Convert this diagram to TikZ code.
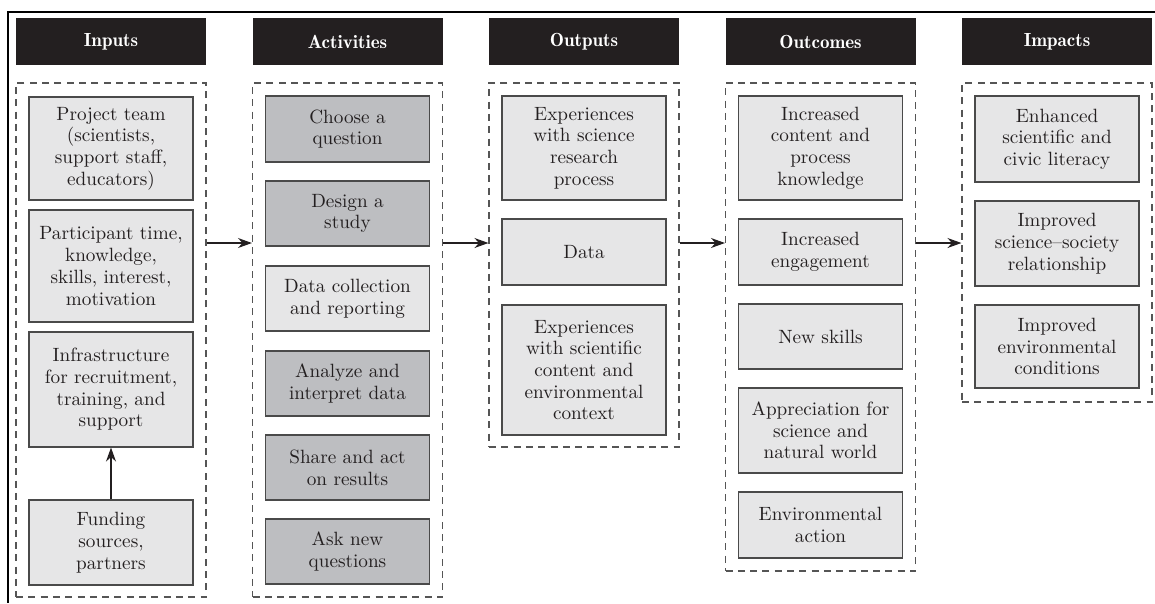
\documentclass[tikz,border=0pt]{standalone}
\usepackage{fontspec}
\usepackage{tikz}
\usetikzlibrary{arrows.meta}
\usetikzlibrary{positioning}

\newfontfamily\bodyfont{lmroman10-regular.otf}[Ligatures=TeX]
\newfontfamily\headfont{lmromandemi10-regular.otf}[Ligatures=TeX]

\definecolor{headblack}{HTML}{231F20}
\definecolor{lightbox}{HTML}{E6E6E7}
\definecolor{darkbox}{HTML}{BDBEC1}
\definecolor{boxline}{HTML}{4A4A4A}
\definecolor{dashline}{HTML}{555555}

\tikzset{
    head/.style={fill=headblack, text=white, minimum width=190pt, minimum height=47pt, inner sep=0pt, font=\headfont\fontsize{19}{21}\selectfont},
    group/.style={draw=dashline, line width=1.1pt, dash pattern=on 7pt off 5.3pt, minimum width=190pt, inner sep=0pt},
    item/.style={draw=boxline, line width=1.1pt, fill=lightbox, minimum width=164pt, inner sep=0pt, align=center, text=headblack, font=\bodyfont\fontsize{19.2}{21.7}\selectfont},
    itemdark/.style={item, fill=darkbox},
    flow/.style={-{Stealth[length=14pt,width=10pt]}, line width=1.4pt, headblack},
}

\begin{document}
\begin{tikzpicture}[x=1pt, y=-1pt]
            \useasboundingbox (0,0) rectangle (1155,603);

            % Frame
            \draw[line width=2pt] (1155,12) -- (8,12) -- (8,603);

            % Headers
            \node[head] (hin) at (111,41.5) {Inputs};
            \node[head] (hact) at (347.5,41.5) {Activities};
            \node[head] (hout) at (584,41.5) {Outputs};
            \node[head] (hoc) at (820.5,41.5) {Outcomes};
            \node[head] (himp) at (1057,41.5) {Impacts};

            % Dashed groups
            \node[group, minimum height=514pt] (gin) at (111,340) {};
            \node[group, minimum height=514pt] (gact) at (347.5,340) {};
            \node[group, minimum height=364pt] (gout) at (584,265) {};
            \node[group, minimum height=488pt] (goc) at (820.5,327) {};
            \node[group, minimum height=319pt] (gimp) at (1057,242.5) {};

            % Inputs
            \node[item, minimum height=103pt] (team) at (111,148.5) {Project team\\(scientists,\\support staff,\\educators)};
            \node[item, minimum height=112pt] (ptime) at (111,266) {Participant time,\\knowledge,\\skills, interest,\\motivation};
            \node[item, minimum height=115pt] (infra) at (111,389.5) {Infrastructure\\for recruitment,\\training, and\\support};
            \node[item, minimum height=85pt] (fund) at (111,542.5) {Funding\\sources,\\partners};

            % Activities
            \node[itemdark, minimum height=66pt] (choose) at (347.5,129) {Choose a\\question};
            \node[itemdark, minimum height=65pt] (design) at (347.5,213.5) {Design a\\study};
            \node[item, minimum height=65pt] (collect) at (347.5,298.5) {Data collection\\and reporting};
            \node[itemdark, minimum height=65pt] (analyze) at (347.5,383.5) {Analyze and\\interpret data};
            \node[itemdark, minimum height=65pt] (share) at (347.5,467.5) {Share and act\\on results};
            \node[itemdark, minimum height=65pt] (ask) at (347.5,551.5) {Ask new\\questions};

            % Outputs
            \node[item, minimum height=104pt] (expres) at (584,148) {Experiences\\with science\\research\\process};
            \node[item, minimum height=66pt] (data) at (584,252) {Data};
            \node[item, minimum height=130pt] (expsci) at (584,370) {Experiences\\with scientific\\content and\\environmental\\context};

            % Outcomes
            \node[item, minimum height=104pt] (know) at (820.5,148) {Increased\\content and\\process\\knowledge};
            \node[item, minimum height=66pt] (engage) at (820.5,252) {Increased\\engagement};
            \node[item, minimum height=65pt] (skills) at (820.5,336.5) {New skills};
            \node[item, minimum height=85pt] (apprec) at (820.5,430.5) {Appreciation for\\science and\\natural world};
            \node[item, minimum height=66pt] (envact) at (820.5,525) {Environmental\\action};

            % Impacts
            \node[item, minimum height=86pt] (literacy) at (1057,139) {Enhanced\\scientific and\\civic literacy};
            \node[item, minimum height=85pt] (society) at (1057,243.5) {Improved\\science--society\\relationship};
            \node[item, minimum height=83pt] (envcond) at (1057,346.5) {Improved\\environmental\\conditions};

            % Flow
            \coordinate (arr) at (0,243);
            \draw[flow] (gin.east |- arr) -- (gact.west |- arr);
            \draw[flow] (gact.east |- arr) -- (gout.west |- arr);
            \draw[flow] (gout.east |- arr) -- (goc.west |- arr);
            \draw[flow] (goc.east |- arr) -- (gimp.west |- arr);
            \draw[flow] (fund) -- (infra);
        \end{tikzpicture}
\end{document}
